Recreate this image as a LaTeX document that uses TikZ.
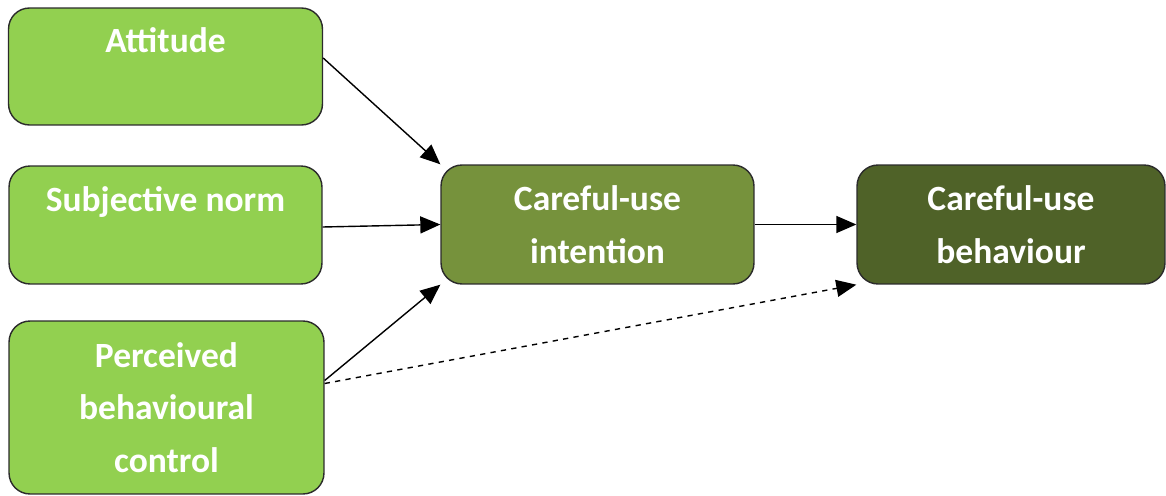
\documentclass[tikz,border=0pt]{standalone}
\usepackage{fontspec}
\setmainfont{Carlito}
\usetikzlibrary{arrows.meta}
\definecolor{lightg}{HTML}{92D050}
\definecolor{midg}{HTML}{76923C}
\definecolor{darkg}{HTML}{4F6228}
\definecolor{edgec}{HTML}{2B2B2B}
\tikzset{
  boxstyle/.style={draw=edgec, line width=0.8pt, rounded corners=0.42cm, text=white,
    font=\fontsize{20.2}{30}\selectfont\bfseries, align=center, inner sep=0pt},
  arr/.style={line width=0.8pt, -{Triangle[length=0.4cm,width=0.34cm]}},
}
\begin{document}
\begin{tikzpicture}[x=0.02cm,y=-0.02cm]
\useasboundingbox (0,0) rectangle (1166,496);
\node[boxstyle, fill=lightg, minimum width=6.28cm, minimum height=2.34cm] (att) at (165.5,66.5) {Attitude\\\mbox{}};
\node[boxstyle, fill=lightg, minimum width=6.26cm, minimum height=2.36cm] (sub) at (165.5,225) {Subjective norm\\\mbox{}};
\node[boxstyle, fill=lightg, minimum width=6.30cm, minimum height=3.46cm] (pbc) at (166.5,407.5) {Perceived\\behavioural\\control};
\node[boxstyle, fill=midg, minimum width=6.26cm, minimum height=2.38cm] (int) at (597.5,224.5) {Careful-use\\intention};
\node[boxstyle, fill=darkg, minimum width=6.16cm, minimum height=2.38cm] (beh) at (1011,224.5) {Careful-use\\behaviour};
\draw[arr] ([yshift=0.17cm]att.east) -- (int.north west);
\draw[arr] ([yshift=-0.04cm]sub.east) -- (int.west);
\draw[arr] ([yshift=0.54cm]pbc.east) -- (int.south west);
\draw[arr] (int.east) -- (beh.west);
\draw[arr, dashed] ([yshift=0.48cm]pbc.east) -- (beh.south west);
\end{tikzpicture}
\end{document}
